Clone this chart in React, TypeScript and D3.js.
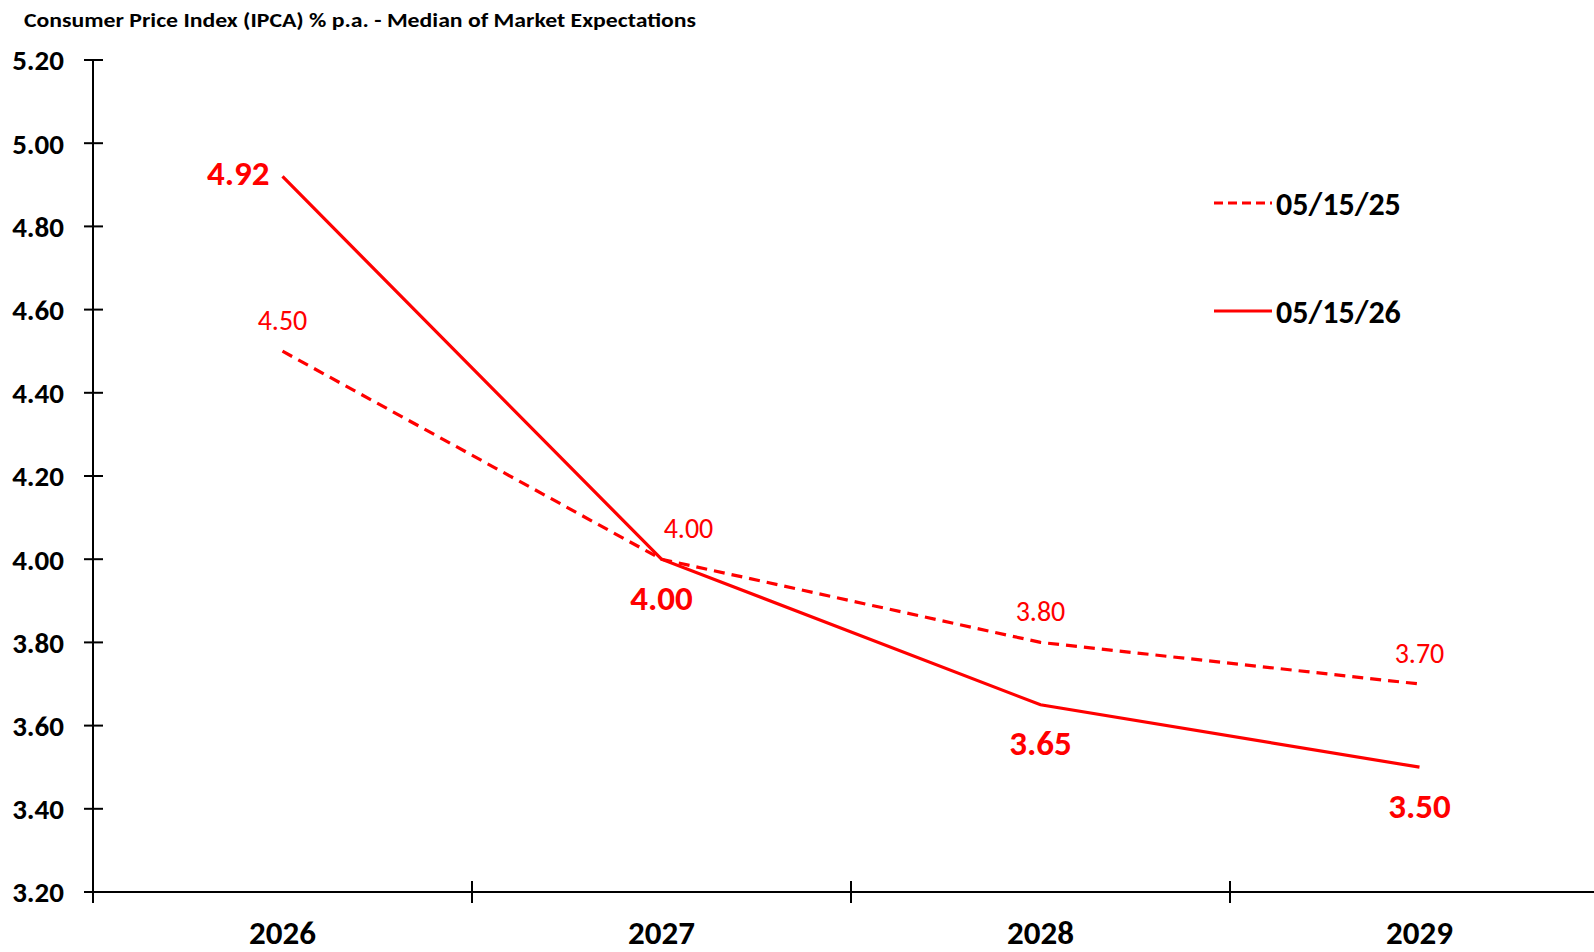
import React, { useEffect, useRef } from 'react';
import * as d3 from 'd3';

const years = ['2026', '2027', '2028', '2029'];
const expMay25 = [4.5, 4.0, 3.8, 3.7];
const expMay26 = [4.92, 4.0, 3.65, 3.5];
const yTicks = [3.2, 3.4, 3.6, 3.8, 4.0, 4.2, 4.4, 4.6, 4.8, 5.0, 5.2];
const seriesNames = ['05/15/25', '05/15/26'];

const FONT = "Carlito, 'Open Sans', 'Liberation Sans', sans-serif";
const RED = '#ff0000';

function App() {
  const ref = useRef<SVGSVGElement>(null);

  useEffect(() => {
    const width = 1594;
    const svg = d3.select(ref.current);
    svg.selectAll('*').remove();

    const left = 93;
    const bottom = 892;
    const top = 60;
    const band = 379;

    // scales
    const x = d3
      .scaleBand<string>()
      .domain(years)
      .range([left, left + band * years.length])
      .padding(0);
    const y = d3.scaleLinear().domain([3.2, 5.2]).range([bottom, top]);
    const cx = (d: string) => (x(d) as number) + x.bandwidth() / 2;

    // title
    svg
      .append('text')
      .attr('x', 24)
      .attr('y', 27)
      .attr('font-family', FONT)
      .attr('font-weight', 700)
      .attr('font-size', 20)
      .attr('textLength', 672)
      .attr('lengthAdjust', 'spacingAndGlyphs')
      .attr('fill', '#000')
      .text('Consumer Price Index (IPCA) % p.a. - Median of Market Expectations');

    // y axis
    const axes = svg.append('g').attr('stroke', '#000').attr('stroke-width', 2);
    axes.append('line').attr('x1', left).attr('x2', left).attr('y1', top).attr('y2', bottom);
    axes
      .selectAll('.ytick')
      .data(yTicks)
      .enter()
      .append('line')
      .attr('x1', left - 9)
      .attr('x2', left + 10)
      .attr('y1', (d) => y(d))
      .attr('y2', (d) => y(d));

    svg
      .selectAll('.ylabel')
      .data(yTicks)
      .enter()
      .append('text')
      .attr('x', 64)
      .attr('y', (d) => y(d))
      .attr('dy', '0.36em')
      .attr('text-anchor', 'end')
      .attr('font-family', FONT)
      .attr('font-weight', 700)
      .attr('font-size', 29)
      .attr('fill', '#000')
      .text((d) => d3.format('.2f')(d));

    // x axis
    axes.append('line').attr('x1', left).attr('x2', width).attr('y1', bottom).attr('y2', bottom);
    axes
      .selectAll('.xtick')
      .data(years)
      .enter()
      .append('line')
      .attr('x1', (d) => x(d) as number)
      .attr('x2', (d) => x(d) as number)
      .attr('y1', bottom - 11)
      .attr('y2', bottom + 11);

    svg
      .selectAll('.xlabel')
      .data(years)
      .enter()
      .append('text')
      .attr('x', (d) => cx(d))
      .attr('y', 932)
      .attr('dy', '0.36em')
      .attr('text-anchor', 'middle')
      .attr('font-family', FONT)
      .attr('font-weight', 700)
      .attr('font-size', 33)
      .attr('fill', '#000')
      .text((d) => d);

    // lines
    const line = d3
      .line<number>()
      .x((_, i) => cx(years[i]))
      .y((d) => y(d));

    svg
      .append('path')
      .datum(expMay25)
      .attr('d', line)
      .attr('fill', 'none')
      .attr('stroke', RED)
      .attr('stroke-width', 3.2)
      .attr('stroke-dasharray', '11,7');

    svg
      .append('path')
      .datum(expMay26)
      .attr('d', line)
      .attr('fill', 'none')
      .attr('stroke', RED)
      .attr('stroke-width', 3.2);

    // data labels, dashed series above the points
    svg
      .selectAll('.lbl25')
      .data(expMay25)
      .enter()
      .append('text')
      .attr('x', (d, i) => cx(years[i]) + (i === 1 ? 27 : 0))
      .attr('y', (d) => y(d) - 31)
      .attr('dy', '0.36em')
      .attr('text-anchor', 'middle')
      .attr('font-family', FONT)
      .attr('font-size', 28)
      .attr('fill', RED)
      .text((d) => d3.format('.2f')(d));

    // solid series: first to the left, the rest below
    svg
      .selectAll('.lbl26')
      .data(expMay26)
      .enter()
      .append('text')
      .attr('x', (d, i) => (i === 0 ? cx(years[i]) - 13 : cx(years[i])))
      .attr('y', (d, i) => (i === 0 ? y(d) - 4 : y(d) + 38))
      .attr('dy', '0.36em')
      .attr('text-anchor', (d, i) => (i === 0 ? 'end' : 'middle'))
      .attr('font-family', FONT)
      .attr('font-weight', 700)
      .attr('font-size', 35)
      .attr('fill', RED)
      .text((d) => d3.format('.2f')(d));

    // legend
    const legend = svg.append('g');
    seriesNames.forEach((name, i) => {
      const ly = 203 + i * 108;
      legend
        .append('line')
        .attr('x1', 1214)
        .attr('x2', 1272)
        .attr('y1', ly)
        .attr('y2', ly)
        .attr('stroke', RED)
        .attr('stroke-width', 3.2)
        .attr('stroke-dasharray', i === 0 ? '9,5' : null);
      legend
        .append('text')
        .attr('x', 1276)
        .attr('y', ly)
        .attr('dy', '0.36em')
        .attr('font-family', FONT)
        .attr('font-weight', 700)
        .attr('font-size', 32)
        .attr('fill', '#000')
        .text(name);
    });
  }, []);

  return (
    <svg
      ref={ref}
      width={1594}
      height={952}
      style={{ position: 'absolute', left: 0, top: 0, background: '#fff' }}
    />
  );
}

export default App;
